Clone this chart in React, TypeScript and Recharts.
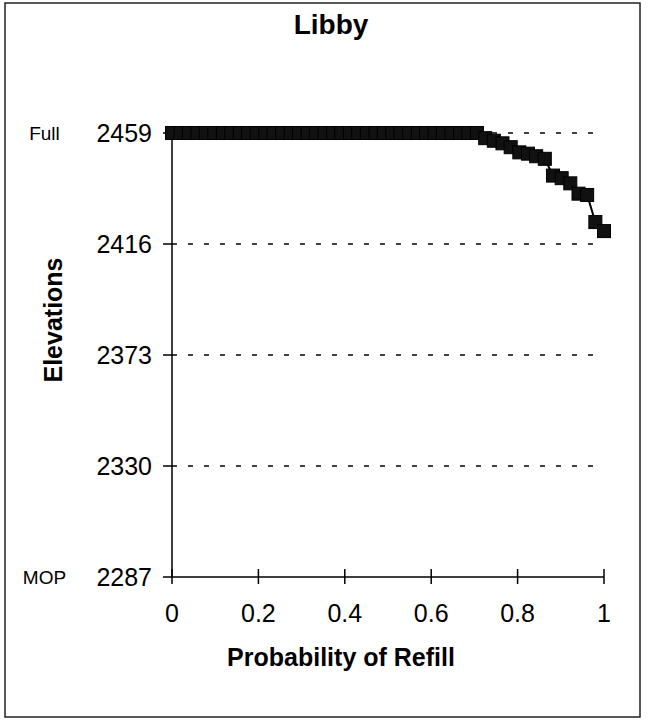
import { LineChart, Line, XAxis, YAxis, CartesianGrid } from "recharts";

const probability = [
  0, 0.02, 0.039, 0.059, 0.078, 0.098, 0.118, 0.137, 0.157, 0.176,
  0.196, 0.216, 0.235, 0.255, 0.275, 0.294, 0.314, 0.333, 0.353, 0.373,
  0.392, 0.412, 0.431, 0.451, 0.471, 0.49, 0.51, 0.529, 0.549, 0.569,
  0.588, 0.608, 0.627, 0.647, 0.667, 0.686, 0.706, 0.725, 0.745, 0.765,
  0.784, 0.804, 0.824, 0.843, 0.863, 0.882, 0.902, 0.922, 0.941, 0.961,
  0.98, 1,
];

const elevation = [
  2459, 2459, 2459, 2459, 2459, 2459, 2459, 2459, 2459, 2459,
  2459, 2459, 2459, 2459, 2459, 2459, 2459, 2459, 2459, 2459,
  2459, 2459, 2459, 2459, 2459, 2459, 2459, 2459, 2459, 2459,
  2459, 2459, 2459, 2459, 2459, 2459, 2459, 2457, 2456, 2455,
  2453.5, 2451.5, 2451, 2450, 2449, 2442.5, 2441.5, 2439.5, 2435.5, 2435,
  2424.5, 2421,
];

const xTicks = [0, 0.2, 0.4, 0.6, 0.8, 1];
const yTicks = [2287, 2330, 2373, 2416, 2459];
const gridValues = [2330, 2373, 2416, 2459];
const sideLabels: Record<number, string> = { 2459: "Full", 2287: "MOP" };

const data = probability.map((p, i) => ({ p, elev: elevation[i] }));

const font = "'Liberation Sans', Arial, Helvetica, sans-serif";

function SquareDot(props: any) {
  const { cx, cy, index } = props;
  if (cx == null || cy == null) return null;
  return <rect key={index} x={cx - 6.5} y={cy - 6.5} width={13} height={13} fill="#111" stroke="#000" strokeWidth={1} />;
}

function YTick(props: any) {
  const { x, y, payload } = props;
  const side = sideLabels[payload.value];
  return (
    <g>
      <text x={x} y={y} dy={9} textAnchor="end" fontSize={25} fontFamily={font} fill="#000">
        {payload.value}
      </text>
      {side && (
        <text x={44.5} y={y} dy={7} textAnchor="middle" fontSize={19} fontFamily={font} fill="#000">
          {side}
        </text>
      )}
    </g>
  );
}

function XTick(props: any) {
  const { x, y, payload } = props;
  return (
    <g>
      <line x1={x} x2={x} y1={y - 8} y2={y + 7} stroke="#000" strokeWidth={1.5} />
      <text x={x} y={y + 45} textAnchor="middle" fontSize={25} fontFamily={font} fill="#000">
        {payload.value}
      </text>
    </g>
  );
}

export default function App() {
  return (
    <div style={{ position: "absolute", left: 0, top: 0, width: 648, height: 723, background: "#fff" }}>
      <LineChart width={648} height={723} data={data} margin={{ top: 133, right: 44, bottom: 86, left: 112 }}>
        <CartesianGrid
          vertical={false}
          horizontalValues={gridValues}
          stroke="#000"
          strokeDasharray="5 11"
          strokeWidth={1.5}
        />
        <XAxis
          dataKey="p"
          type="number"
          domain={[0, 1]}
          ticks={xTicks}
          height={60}
          tickSize={0}
          tickMargin={0}
          tickLine={false}
          axisLine={{ stroke: "#000", strokeWidth: 1.5 }}
          tick={<XTick />}
          interval={0}
        />
        <YAxis
          type="number"
          domain={[2287, 2459]}
          ticks={yTicks}
          width={60}
          tickSize={9}
          tickMargin={11}
          tickLine={{ stroke: "#000", strokeWidth: 1.5 }}
          axisLine={{ stroke: "#000", strokeWidth: 1.5 }}
          tick={<YTick />}
          interval={0}
        />
        <Line
          type="linear"
          dataKey="elev"
          stroke="#000"
          strokeWidth={2}
          dot={<SquareDot />}
          activeDot={false}
          isAnimationActive={false}
        />
      </LineChart>
      <svg width={648} height={723} style={{ position: "absolute", left: 0, top: 0, pointerEvents: "none" }}>
        <rect x={5} y={3} width={635} height={714} fill="none" stroke="#222" strokeWidth={1.5} />
        <text x={331} y={34} textAnchor="middle" fontSize={28} fontWeight="bold" fontFamily={font} fill="#000">
          Libby
        </text>
        <text x={341} y={666} textAnchor="middle" fontSize={25} fontWeight="bold" fontFamily={font} fill="#000">
          Probability of Refill
        </text>
        <text
          transform="translate(62,320) rotate(-90)"
          textAnchor="middle"
          fontSize={25}
          fontWeight="bold"
          fontFamily={font}
          fill="#000"
        >
          Elevations
        </text>
      </svg>
    </div>
  );
}
